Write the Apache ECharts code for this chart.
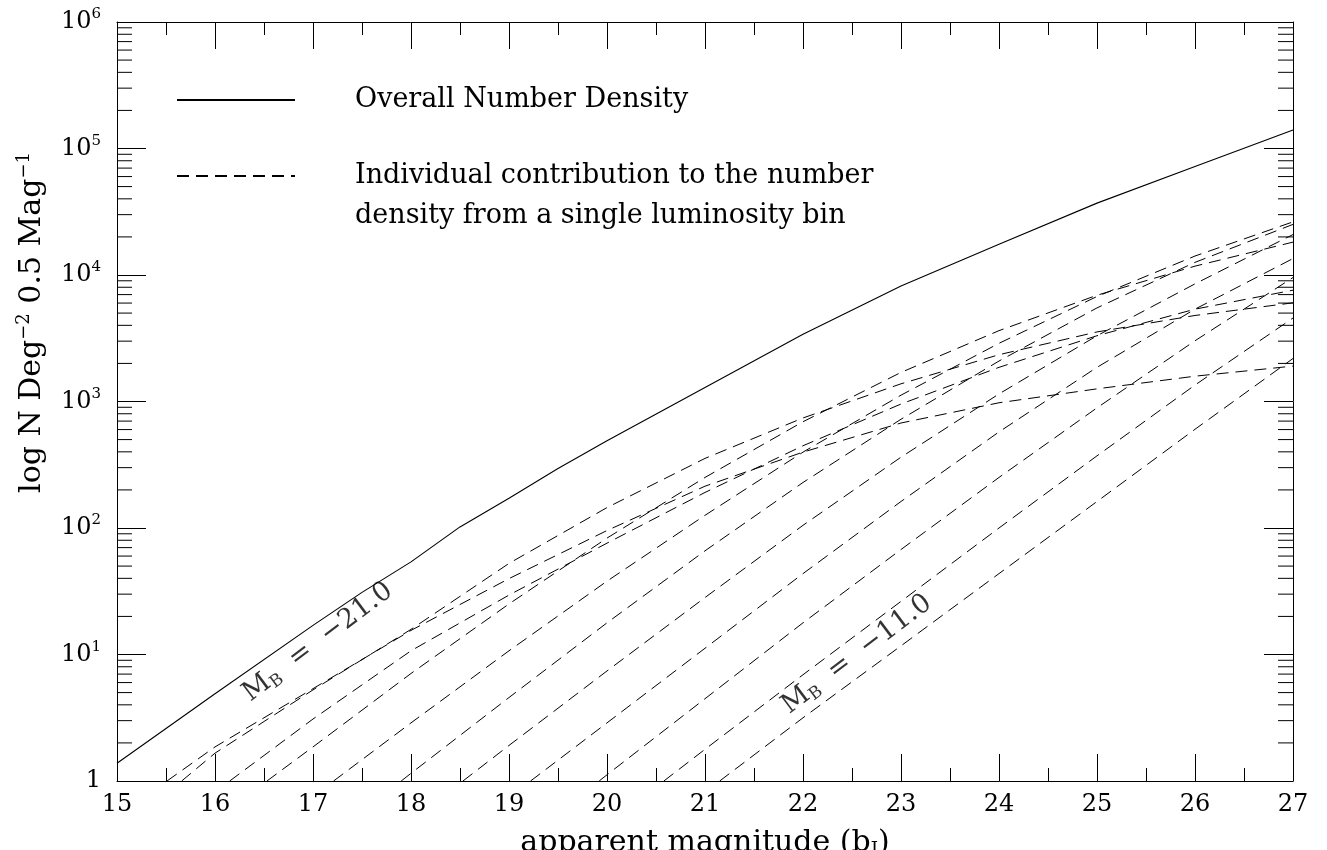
<!DOCTYPE html>
<html><head><meta charset="utf-8">
<script src="https://cdn.jsdelivr.net/npm/echarts/dist/echarts.min.js"></script>
<style>html,body{margin:0;padding:0;background:#fff}#c{width:1327px;height:850px}</style>
</head><body><div id="c"></div>
<script>
// ---- data ----
const magnitudes = [15,16,17,18,19,20,21,22,23,24,25,26,27];
const yTickValues = [1,10,100,1000,10000,100000,1000000];
const yTickExponents = ['','1','2','3','4','5','6'];
const yMinorTicks = [2,3,4,5,6,7,8,9,20,30,40,50,60,70,80,90,200,300,400,500,600,700,800,900,
  2000,3000,4000,5000,6000,7000,8000,9000,20000,30000,40000,50000,60000,70000,80000,90000,
  200000,300000,400000,500000,600000,700000,800000,900000];

const overallMag = [15,16,17,17.5,18,18.5,19,19.5,20,21,22,23,24,25,26,27];
const overallN   = [1.38,4.9,17,31,54,102,172,295,490,1290,3400,8200,17500,37000,72000,140000];

const binM21 = [[15.51,1],[16,1.86],[17,5.37],[18,15.5],[19,39.8],[20,95.5],[21,214],[22,398],[23,676],[24,977],[25,1259],[26,1585],[27,1905]];
const binM20 = [[15.66,1],[16,1.66],[17,5.25],[18,15.8],[19,52.5],[20,145],[21,355],[22,741],[23,1380],[24,2344],[25,3548],[26,4786],[27,6026]];
const binM19 = [[16.15,1],[17,3.09],[18,10.7],[19,29.5],[20,75.9],[21,191],[22,447],[23,955],[24,1862],[25,3311],[26,5370],[27,7586]];
const binM18 = [[16.53,1],[17,1.86],[18,7.08],[19,25.1],[20,83.2],[21,251],[22,692],[23,1698],[24,3631],[25,6918],[26,11749],[27,18197]];
const binM17 = [[17.21,1],[18,2.88],[19,10.7],[20,38],[21,126],[22,398],[23,1122],[24,2884],[25,6761],[26,14125],[27,26303]];
const binM16 = [[17.9,1],[18,1.15],[19,4.57],[20,17.8],[21,66],[22,229],[23,724],[24,2089],[25,5495],[26,12589],[27,25119]];
const binM15 = [[18.53,1],[19,1.91],[20,7.41],[21,28.2],[22,105],[23,363],[24,1148],[25,3311],[26,8511],[27,20893]];
const binM14 = [[19.22,1],[20,2.88],[21,11.2],[22,43.6],[23,162],[24,575],[25,1862],[26,5370],[27,13490]];
const binM13 = [[19.92,1],[20,1.12],[21,4.47],[22,17.8],[23,67.6],[24,251],[25,891],[26,3020],[27,9550]];
const binM12 = [[20.58,1],[21,1.78],[22,6.92],[23,26.3],[24,100],[25,372],[26,1349],[27,4571]];
const binM11 = [[21.15,1],[22,3.16],[23,11.7],[24,43.6],[25,162],[26,603],[27,2188]];

const binLabels = [
  {text: '\u221221.0', at: [17.05, 12.5]},
  {text: '\u221211.0', at: [22.55, 10]}
];

const SOLID_NAME = 'Overall Number Density';
const DASH_NAME = 'Individual contribution to the number density from a single luminosity bin';
const DASH_TEXT = '\nIndividual contribution to the number\ndensity from a single luminosity bin';

// ---- chart ----
const FONT = 'DejaVu Serif';
const xMin = magnitudes[0], xMax = magnitudes[magnitudes.length - 1];
const chart = echarts.init(document.getElementById('c'), null, {renderer: 'canvas'});

const bins = [binM21, binM20, binM19, binM18, binM17, binM16, binM15, binM14, binM13, binM12, binM11];
const dashStyle = {color: '#000', width: 1, type: [12, 7]};

const series = [];
series.push({
  name: SOLID_NAME, type: 'line', symbol: 'none', animation: false,
  data: overallMag.map((m, i) => [m, overallN[i]]),
  lineStyle: {color: '#000', width: 1.1}, itemStyle: {color: '#000'}, z: 3
});
bins.forEach(b => series.push({
  name: DASH_NAME, type: 'line', symbol: 'none', animation: false, clip: true,
  data: b, lineStyle: dashStyle, itemStyle: {color: '#000'}, z: 2
}));
series.push({
  type: 'custom', silent: true, animation: false, clip: false,
  data: yMinorTicks.map(v => [xMin, v]),
  encode: {x: 0, y: 1},
  renderItem: (params, api) => {
    const v = api.value(1);
    const l = api.coord([xMin, v]);
    const r = api.coord([xMax, v]);
    return {type: 'group', children: [
      {type: 'line', shape: {x1: l[0], y1: l[1], x2: l[0] + 15, y2: l[1]}, style: {stroke: '#000', lineWidth: 1}},
      {type: 'line', shape: {x1: r[0], y1: r[1], x2: r[0] - 15, y2: r[1]}, style: {stroke: '#000', lineWidth: 1}}
    ]};
  }
});
series.push({
  type: 'scatter', silent: true, animation: false, symbolSize: 0,
  data: binLabels.map(d => ({value: d.at, labelText: d.text})),
  label: {
    show: true, position: 'inside', rotate: 37, color: '#000',
    formatter: p => '{m|M}{s|B}{m|  =  ' + p.data.labelText + '}',
    rich: {
      m: {fontFamily: FONT, fontSize: 27, color: '#000', lineHeight: 30},
      s: {fontFamily: FONT, fontSize: 17, color: '#000', verticalAlign: 'bottom', lineHeight: 24}
    }
  },
  z: 4
});

const xAxisBase = {
  type: 'value', min: xMin, max: xMax, interval: 1,
  axisLine: {show: true, lineStyle: {color: '#000', width: 1}},
  axisTick: {show: true, inside: true, length: 27, lineStyle: {color: '#000', width: 1}},
  minorTick: {show: true, splitNumber: 2, length: 13, lineStyle: {color: '#000', width: 1}},
  splitLine: {show: false}, minorSplitLine: {show: false}
};
const yAxisBase = {
  type: 'log', logBase: 10, min: yTickValues[0], max: yTickValues[yTickValues.length - 1], splitNumber: 6,
  axisLine: {show: true, lineStyle: {color: '#000', width: 1}},
  axisTick: {show: true, inside: true, length: 29, lineStyle: {color: '#000', width: 1}},
  splitLine: {show: false}
};

function yLabel(v) {
  let idx = 0, best = Infinity;
  yTickValues.forEach((t, i) => { const d = Math.abs(Math.log10(v) - Math.log10(t)); if (d < best) { best = d; idx = i; } });
  return idx === 0 ? '{b|1}' : '{b|10}{e|' + yTickExponents[idx] + '}';
}

chart.setOption({
  backgroundColor: '#fff',
  animation: false,
  grid: {left: 117, right: 34, top: 22, bottom: 69, containLabel: false, outerBoundsMode: 'none'},
  legend: [
    {
      left: 176, top: 85, padding: 0, orient: 'vertical', selectedMode: false,
      itemWidth: 118, itemHeight: 14, itemStyle: {opacity: 0},
      data: [{name: SOLID_NAME}],
      textStyle: {fontFamily: FONT, fontSize: 27, color: '#000', lineHeight: 30, padding: [0, 0, 0, 55]}
    },
    {
      left: 176, top: 116, padding: 0, orient: 'vertical', selectedMode: false,
      itemWidth: 118, itemHeight: 14, itemStyle: {opacity: 0},
      data: [{name: DASH_NAME}],
      formatter: () => DASH_TEXT,
      textStyle: {fontFamily: FONT, fontSize: 27, color: '#000', lineHeight: 40, padding: [0, 0, 0, 55]}
    }
  ],
  xAxis: [
    Object.assign({}, xAxisBase, {
      position: 'bottom',
      axisLabel: {show: true, fontFamily: FONT, fontSize: 24, color: '#000', margin: 12},
      name: '{t|apparent magnitude (b}{s|J}{t|)}', nameLocation: 'middle', nameGap: 46,
      nameTextStyle: {rich: {
        t: {fontFamily: FONT, fontSize: 30, color: '#000', lineHeight: 32},
        s: {fontFamily: FONT, fontSize: 18, color: '#000', verticalAlign: 'bottom', lineHeight: 26}
      }}
    }),
    Object.assign({}, xAxisBase, {position: 'top', axisLabel: {show: false}})
  ],
  yAxis: [
    Object.assign({}, yAxisBase, {
      position: 'left',
      axisLabel: {
        show: true, margin: 16, formatter: yLabel,
        rich: {
          b: {fontFamily: FONT, fontSize: 24, color: '#000', lineHeight: 30},
          e: {fontFamily: FONT, fontSize: 15, color: '#000', verticalAlign: 'top', lineHeight: 16}
        }
      },
      name: '{t|log N Deg}{e|\u22122}{t| 0.5 Mag}{e|\u22121}', nameLocation: 'middle', nameRotate: 90, nameGap: 68,
      nameTextStyle: {padding: [0, 0, 0, 158], rich: {
        t: {fontFamily: FONT, fontSize: 30, color: '#000', lineHeight: 34},
        e: {fontFamily: FONT, fontSize: 18, color: '#000', verticalAlign: 'top', lineHeight: 20}
      }}
    }),
    Object.assign({}, yAxisBase, {position: 'right', axisLabel: {show: false}})
  ],
  series: series
});
</script></body></html>
